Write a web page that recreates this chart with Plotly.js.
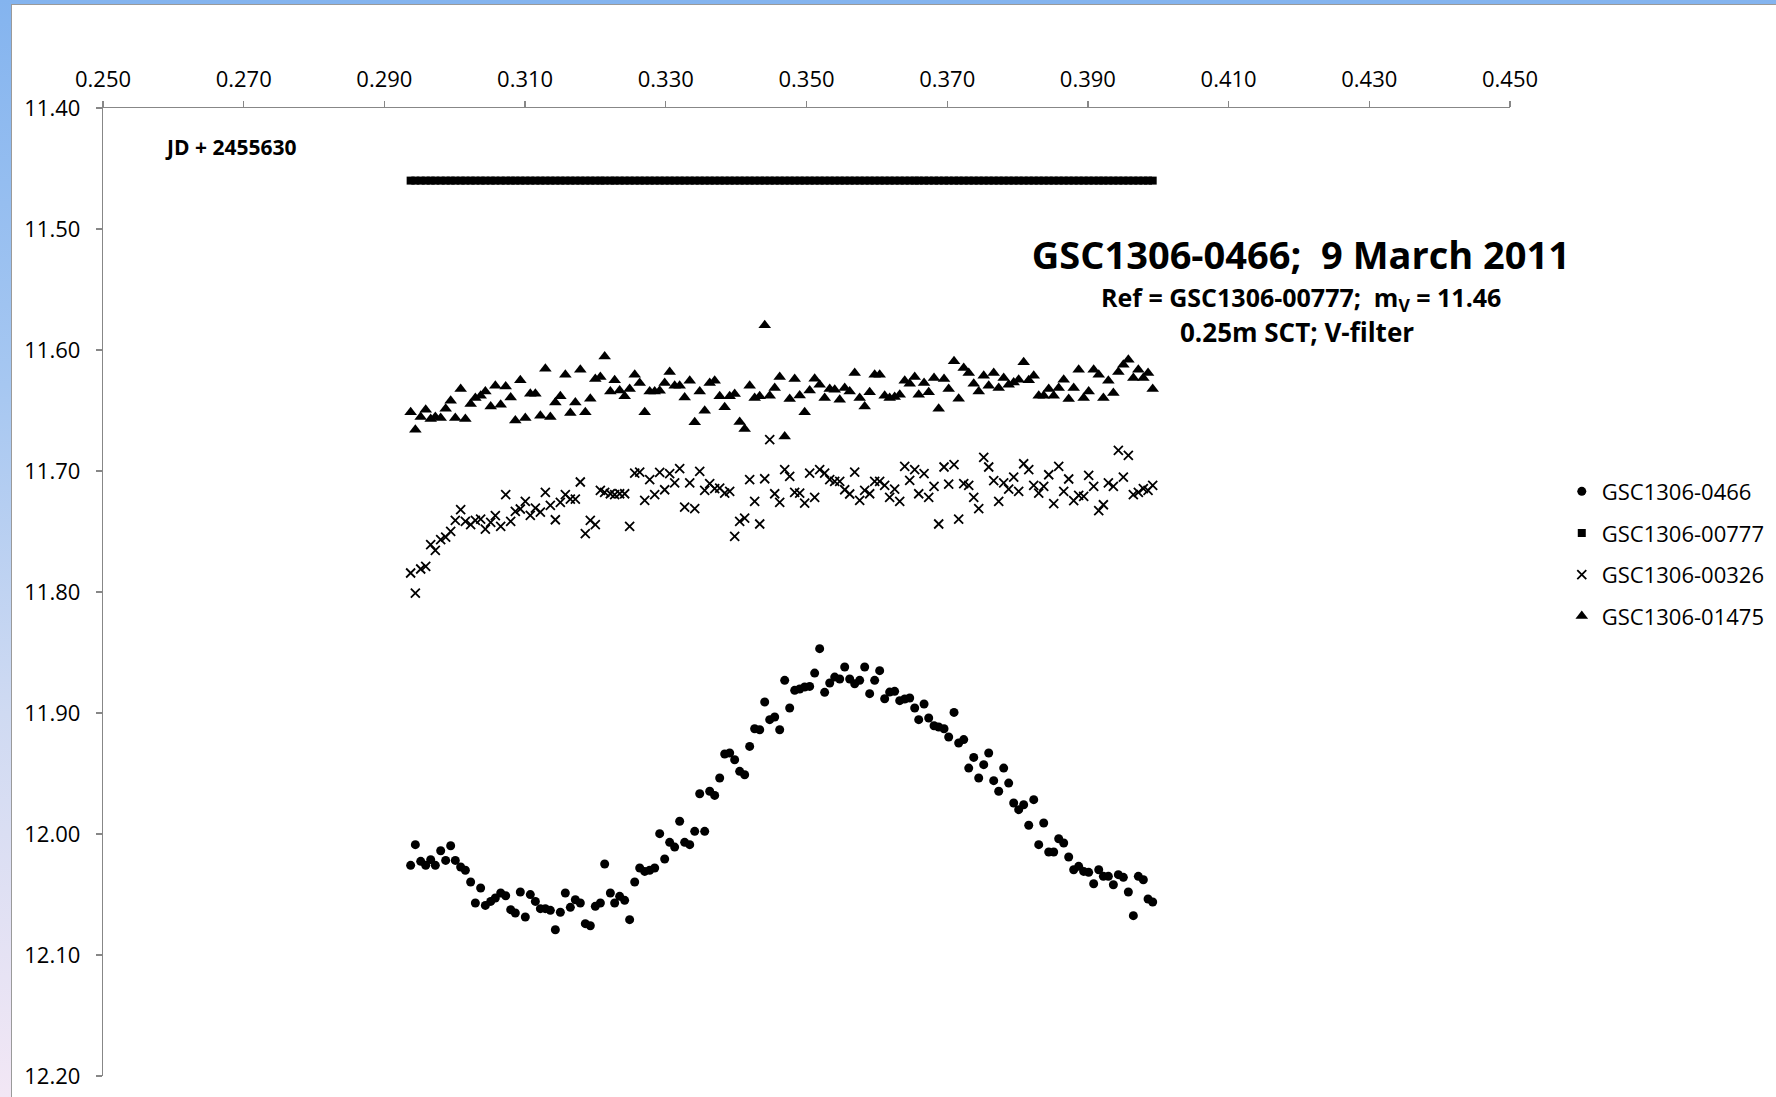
<!DOCTYPE html>
<html><head><meta charset="utf-8">
<script src="https://cdn.plot.ly/plotly-3.0.1.min.js"></script>
<style>
html,body{margin:0;padding:0;width:1776px;height:1097px;overflow:hidden;}
body{background:linear-gradient(to bottom,#84b4ef 0%,#a6c7f1 35%,#cfdaf2 65%,#f2e7f5 100%);position:relative;}
#panel{position:absolute;left:11px;top:4px;width:1775px;height:1100px;background:#fff;border-left:1px solid #9a9a9a;border-top:1px solid #9a9a9a;}
#chart{position:absolute;left:0;top:0;width:1776px;height:1097px;}
</style></head><body><div id="panel"></div><div id="chart"></div>
<script>
// Time (JD - 2455630)
const time = [
0.29373,0.29440,0.29516,0.29587,0.29658,0.29724,0.29800,0.29871,0.29942,0.30008,0.30084,0.30151,0.30226,0.30293,0.30368,0.30435,0.30511,0.30577,0.30653,0.30724,0.30795,0.30861,0.30932,0.31003,0.31074,0.31146,0.31217,0.31288,0.31359,0.31430,0.31501,0.31572,0.31643,0.31714,0.31785,0.31856,0.31927,0.31998,0.32070,0.32131,0.32212,0.32273,0.32344,0.32415,0.32486,0.32558,0.32629,0.32700,0.32771,0.32842,
0.32913,0.32984,0.33055,0.33126,0.33197,0.33268,0.33340,0.33411,0.33482,0.33553,0.33624,0.33695,0.33766,0.33837,0.33908,0.33979,0.34050,0.34121,0.34192,0.34263,0.34335,0.34406,0.34477,0.34548,0.34619,0.34690,0.34761,0.34832,0.34903,0.34974,0.35045,0.35116,0.35187,0.35258,0.35330,0.35401,0.35472,0.35543,0.35614,0.35685,0.35756,0.35827,0.35898,0.35969,0.36040,0.36111,0.36182,0.36253,0.36325,0.36396,0.36467,0.36538,
0.36595,0.36671,0.36737,0.36813,0.36879,0.36955,0.37021,0.37097,0.37163,0.37235,0.37306,0.37377,0.37448,0.37519,0.37590,0.37661,0.37732,0.37803,0.37874,0.37945,0.38016,0.38087,0.38159,0.38230,0.38301,0.38372,0.38443,0.38514,0.38585,0.38656,0.38727,0.38798,0.38869,0.38940,0.39011,0.39082,0.39154,0.39220,0.39291,0.39362,0.39433,0.39504,0.39575,0.39646,0.39717,0.39788,0.39855,0.39921];

// GSC1306-0466 (variable)
const magVar = [
12.0259,12.0088,12.0226,12.0259,12.0212,12.0259,12.0138,12.0218,12.0097,12.0218,12.0273,12.0300,12.0397,12.0570,12.0446,12.0590,12.0557,12.0529,12.0488,12.0510,12.0625,12.0653,12.0479,12.0686,12.0501,12.0557,12.0617,12.0617,12.0631,12.0791,12.0647,12.0488,12.0606,12.0543,12.0570,12.0741,12.0758,12.0598,12.0570,12.0248,12.0488,12.0570,12.0515,12.0548,12.0708,12.0397,12.0281,12.0309,12.0300,12.0281,
11.9997,12.0207,12.0069,12.0108,11.9895,12.0069,12.0088,11.9978,11.9667,11.9978,11.9647,11.9681,11.9537,11.9339,11.9331,11.9386,11.9482,11.9510,11.9276,11.9130,11.9138,11.8909,11.9055,11.9033,11.9138,11.8730,11.8959,11.8813,11.8802,11.8785,11.8780,11.8670,11.8468,11.8829,11.8752,11.8703,11.8719,11.8620,11.8719,11.8758,11.8730,11.8620,11.8840,11.8730,11.8650,11.8882,11.8827,11.8821,11.8898,11.8884,11.8876,11.8959,
11.9055,11.8926,11.9041,11.9105,11.9116,11.9130,11.9198,11.8995,11.9248,11.9220,11.9455,11.9367,11.9537,11.9427,11.9331,11.9559,11.9647,11.9455,11.9579,11.9744,11.9799,11.9758,11.9928,11.9716,12.0088,11.9909,12.0149,12.0149,12.0039,12.0074,12.0190,12.0295,12.0267,12.0309,12.0317,12.0411,12.0295,12.0350,12.0350,12.0419,12.0336,12.0358,12.0479,12.0675,12.0350,12.0378,12.0537,12.0562];

// GSC1306-00777 (reference, m_V = 11.46)
const magRef = [
11.46,11.46,11.46,11.46,11.46,11.46,11.46,11.46,11.46,11.46,11.46,11.46,11.46,11.46,11.46,11.46,11.46,11.46,11.46,11.46,11.46,11.46,11.46,11.46,11.46,11.46,11.46,11.46,11.46,11.46,11.46,11.46,11.46,11.46,11.46,11.46,11.46,11.46,11.46,11.46,11.46,11.46,11.46,11.46,11.46,11.46,11.46,11.46,11.46,11.46,
11.46,11.46,11.46,11.46,11.46,11.46,11.46,11.46,11.46,11.46,11.46,11.46,11.46,11.46,11.46,11.46,11.46,11.46,11.46,11.46,11.46,11.46,11.46,11.46,11.46,11.46,11.46,11.46,11.46,11.46,11.46,11.46,11.46,11.46,11.46,11.46,11.46,11.46,11.46,11.46,11.46,11.46,11.46,11.46,11.46,11.46,11.46,11.46,11.46,11.46,11.46,11.46,
11.46,11.46,11.46,11.46,11.46,11.46,11.46,11.46,11.46,11.46,11.46,11.46,11.46,11.46,11.46,11.46,11.46,11.46,11.46,11.46,11.46,11.46,11.46,11.46,11.46,11.46,11.46,11.46,11.46,11.46,11.46,11.46,11.46,11.46,11.46,11.46,11.46,11.46,11.46,11.46,11.46,11.46,11.46,11.46,11.46,11.46,11.46,11.46];

// GSC1306-00326 (check)
const magChk1 = [
11.7843,11.8009,11.7810,11.7788,11.7609,11.7656,11.7568,11.7546,11.7499,11.7408,11.7320,11.7416,11.7444,11.7408,11.7397,11.7480,11.7425,11.7369,11.7458,11.7196,11.7416,11.7334,11.7314,11.7251,11.7367,11.7306,11.7339,11.7177,11.7284,11.7403,11.7259,11.7196,11.7232,11.7232,11.7091,11.7518,11.7408,11.7444,11.7160,11.7177,11.7188,11.7196,11.7188,11.7188,11.7458,11.7017,11.7009,11.7243,11.7072,11.7196,
11.7011,11.7155,11.7022,11.7099,11.6981,11.7298,11.7099,11.7311,11.7003,11.7160,11.7105,11.7146,11.7141,11.7182,11.7168,11.7540,11.7416,11.7389,11.7072,11.7251,11.7438,11.7064,11.6741,11.7188,11.7259,11.6989,11.7044,11.7177,11.7182,11.7265,11.7017,11.7218,11.6989,11.7017,11.7072,11.7086,11.7086,11.7155,11.7190,11.7009,11.7243,11.7160,11.7188,11.7086,11.7086,11.7119,11.7218,11.7149,11.7251,11.6962,11.7077,11.6989,
11.7188,11.7022,11.7218,11.7127,11.7438,11.6967,11.7108,11.6948,11.7397,11.7105,11.7119,11.7218,11.7311,11.6887,11.6967,11.7080,11.7251,11.7099,11.7149,11.7050,11.7168,11.6940,11.6989,11.7119,11.7182,11.7127,11.7031,11.7270,11.6962,11.7168,11.7066,11.7245,11.7201,11.7210,11.7036,11.7127,11.7328,11.7279,11.7099,11.7127,11.6830,11.7050,11.6871,11.7196,11.7177,11.7146,11.7160,11.7119];

// GSC1306-01475 (check)
const magChk2 = [
11.6515,11.6659,11.6554,11.6493,11.6571,11.6554,11.6562,11.6485,11.6419,11.6562,11.6323,11.6571,11.6447,11.6397,11.6378,11.6342,11.6466,11.6295,11.6452,11.6301,11.6392,11.6582,11.6251,11.6562,11.6361,11.6361,11.6543,11.6155,11.6554,11.6433,11.6383,11.6204,11.6521,11.6433,11.6163,11.6515,11.6403,11.6240,11.6223,11.6053,11.6342,11.6251,11.6334,11.6383,11.6323,11.6204,11.6273,11.6515,11.6342,11.6342,
11.6336,11.6273,11.6182,11.6295,11.6295,11.6392,11.6254,11.6598,11.6342,11.6502,11.6273,11.6254,11.6383,11.6474,11.6383,11.6364,11.6595,11.6653,11.6295,11.6397,11.6383,11.5796,11.6378,11.6314,11.6223,11.6714,11.6405,11.6240,11.6375,11.6515,11.6334,11.6237,11.6287,11.6397,11.6323,11.6328,11.6411,11.6314,11.6342,11.6190,11.6397,11.6466,11.6350,11.6204,11.6204,11.6378,11.6397,11.6389,11.6369,11.6254,11.6278,11.6223,
11.6369,11.6273,11.6350,11.6232,11.6485,11.6240,11.6323,11.6094,11.6403,11.6149,11.6190,11.6278,11.6342,11.6212,11.6295,11.6190,11.6314,11.6232,11.6287,11.6268,11.6245,11.6102,11.6251,11.6212,11.6378,11.6378,11.6323,11.6378,11.6314,11.6245,11.6405,11.6314,11.6163,11.6397,11.6342,11.6163,11.6204,11.6397,11.6254,11.6356,11.6182,11.6121,11.6080,11.6232,11.6163,11.6232,11.6190,11.6323];

const seriesNames = ['GSC1306-0466','GSC1306-00777','GSC1306-00326','GSC1306-01475'];

const FONT = 'Open Sans, sans-serif';
const traces = [
  {x: time, y: magVar, name: seriesNames[0], legendgroup:'a', type:'scatter', mode:'markers',
   marker:{symbol:'circle', size:9, color:'#000'}},
  {x: time, y: magRef, name: seriesNames[1], legendgroup:'b', type:'scatter', mode:'markers',
   marker:{symbol:'square', size:8, color:'#000'}},
  {x: time, y: magChk1, name: seriesNames[2], legendgroup:'c', type:'scatter', mode:'markers',
   marker:{symbol:'x-thin-open', size:9, color:'#000', line:{color:'#000', width:1.8}}},
  {x: time, y: magChk2, name: seriesNames[3], legendgroup:'d', type:'scatter', mode:'markers',
   marker:{symbol:'triangle-up', size:11, color:'#000'}}
];

const axisCommon = {
  showgrid:false, zeroline:false, showline:true, linecolor:'#878787', linewidth:1.2,
  ticks:'outside', ticklen:6, tickcolor:'#878787', tickwidth:1.2,
  tickfont:{family:FONT, size:22, color:'#000'}, autorange:false, automargin:false
};

const layout = {
  width:1776, height:1097,
  margin:{l:103, r:266, t:108, b:21, pad:0, autoexpand:false},
  paper_bgcolor:'rgba(0,0,0,0)', plot_bgcolor:'rgba(0,0,0,0)',
  font:{family:FONT, color:'#000'},
  xaxis: Object.assign({}, axisCommon, {side:'top', range:[0.25,0.45], tick0:0.25, dtick:0.02, tickformat:'.3f', ticklabelstandoff:5}),
  yaxis: Object.assign({}, axisCommon, {range:[12.2,11.4], tick0:11.4, dtick:0.1, tickformat:'.2f', ticklabelstandoff:11}),
  title:{text:'<b>GSC1306-0466;\u00a0\u00a09 March 2011</b>', font:{family:FONT, size:38, color:'#000'},
    xref:'paper', yref:'paper', x:0.8514, y:0.8471, xanchor:'center', yanchor:'middle'},
  legend:{x:1.0368, y:0.6255, xanchor:'left', yanchor:'top', font:{family:FONT, size:22, color:'#000'},
    tracegroupgap:10, bgcolor:'rgba(0,0,0,0)', borderwidth:0},
  annotations:[
    {text:'<b>JD + 2455630</b>', xref:'paper', yref:'paper', x:0.0903, y:0.960, showarrow:false,
     xanchor:'center', yanchor:'middle', font:{family:FONT, size:21, color:'#000'}},
    {text:'<b>Ref = GSC1306-00777;\u00a0\u00a0m<sub>V</sub> = 11.46</b>', xref:'paper', yref:'paper', x:0.8514, y:0.8027, showarrow:false,
     xanchor:'center', yanchor:'middle', font:{family:FONT, size:25, color:'#000'}},
    {text:'<b>0.25m SCT; V-filter</b>', xref:'paper', yref:'paper', x:0.8486, y:0.7686, showarrow:false,
     xanchor:'center', yanchor:'middle', font:{family:FONT, size:26, color:'#000'}}
  ]
};

Plotly.newPlot('chart', traces, layout, {displayModeBar:false, staticPlot:true});
</script></body></html>
